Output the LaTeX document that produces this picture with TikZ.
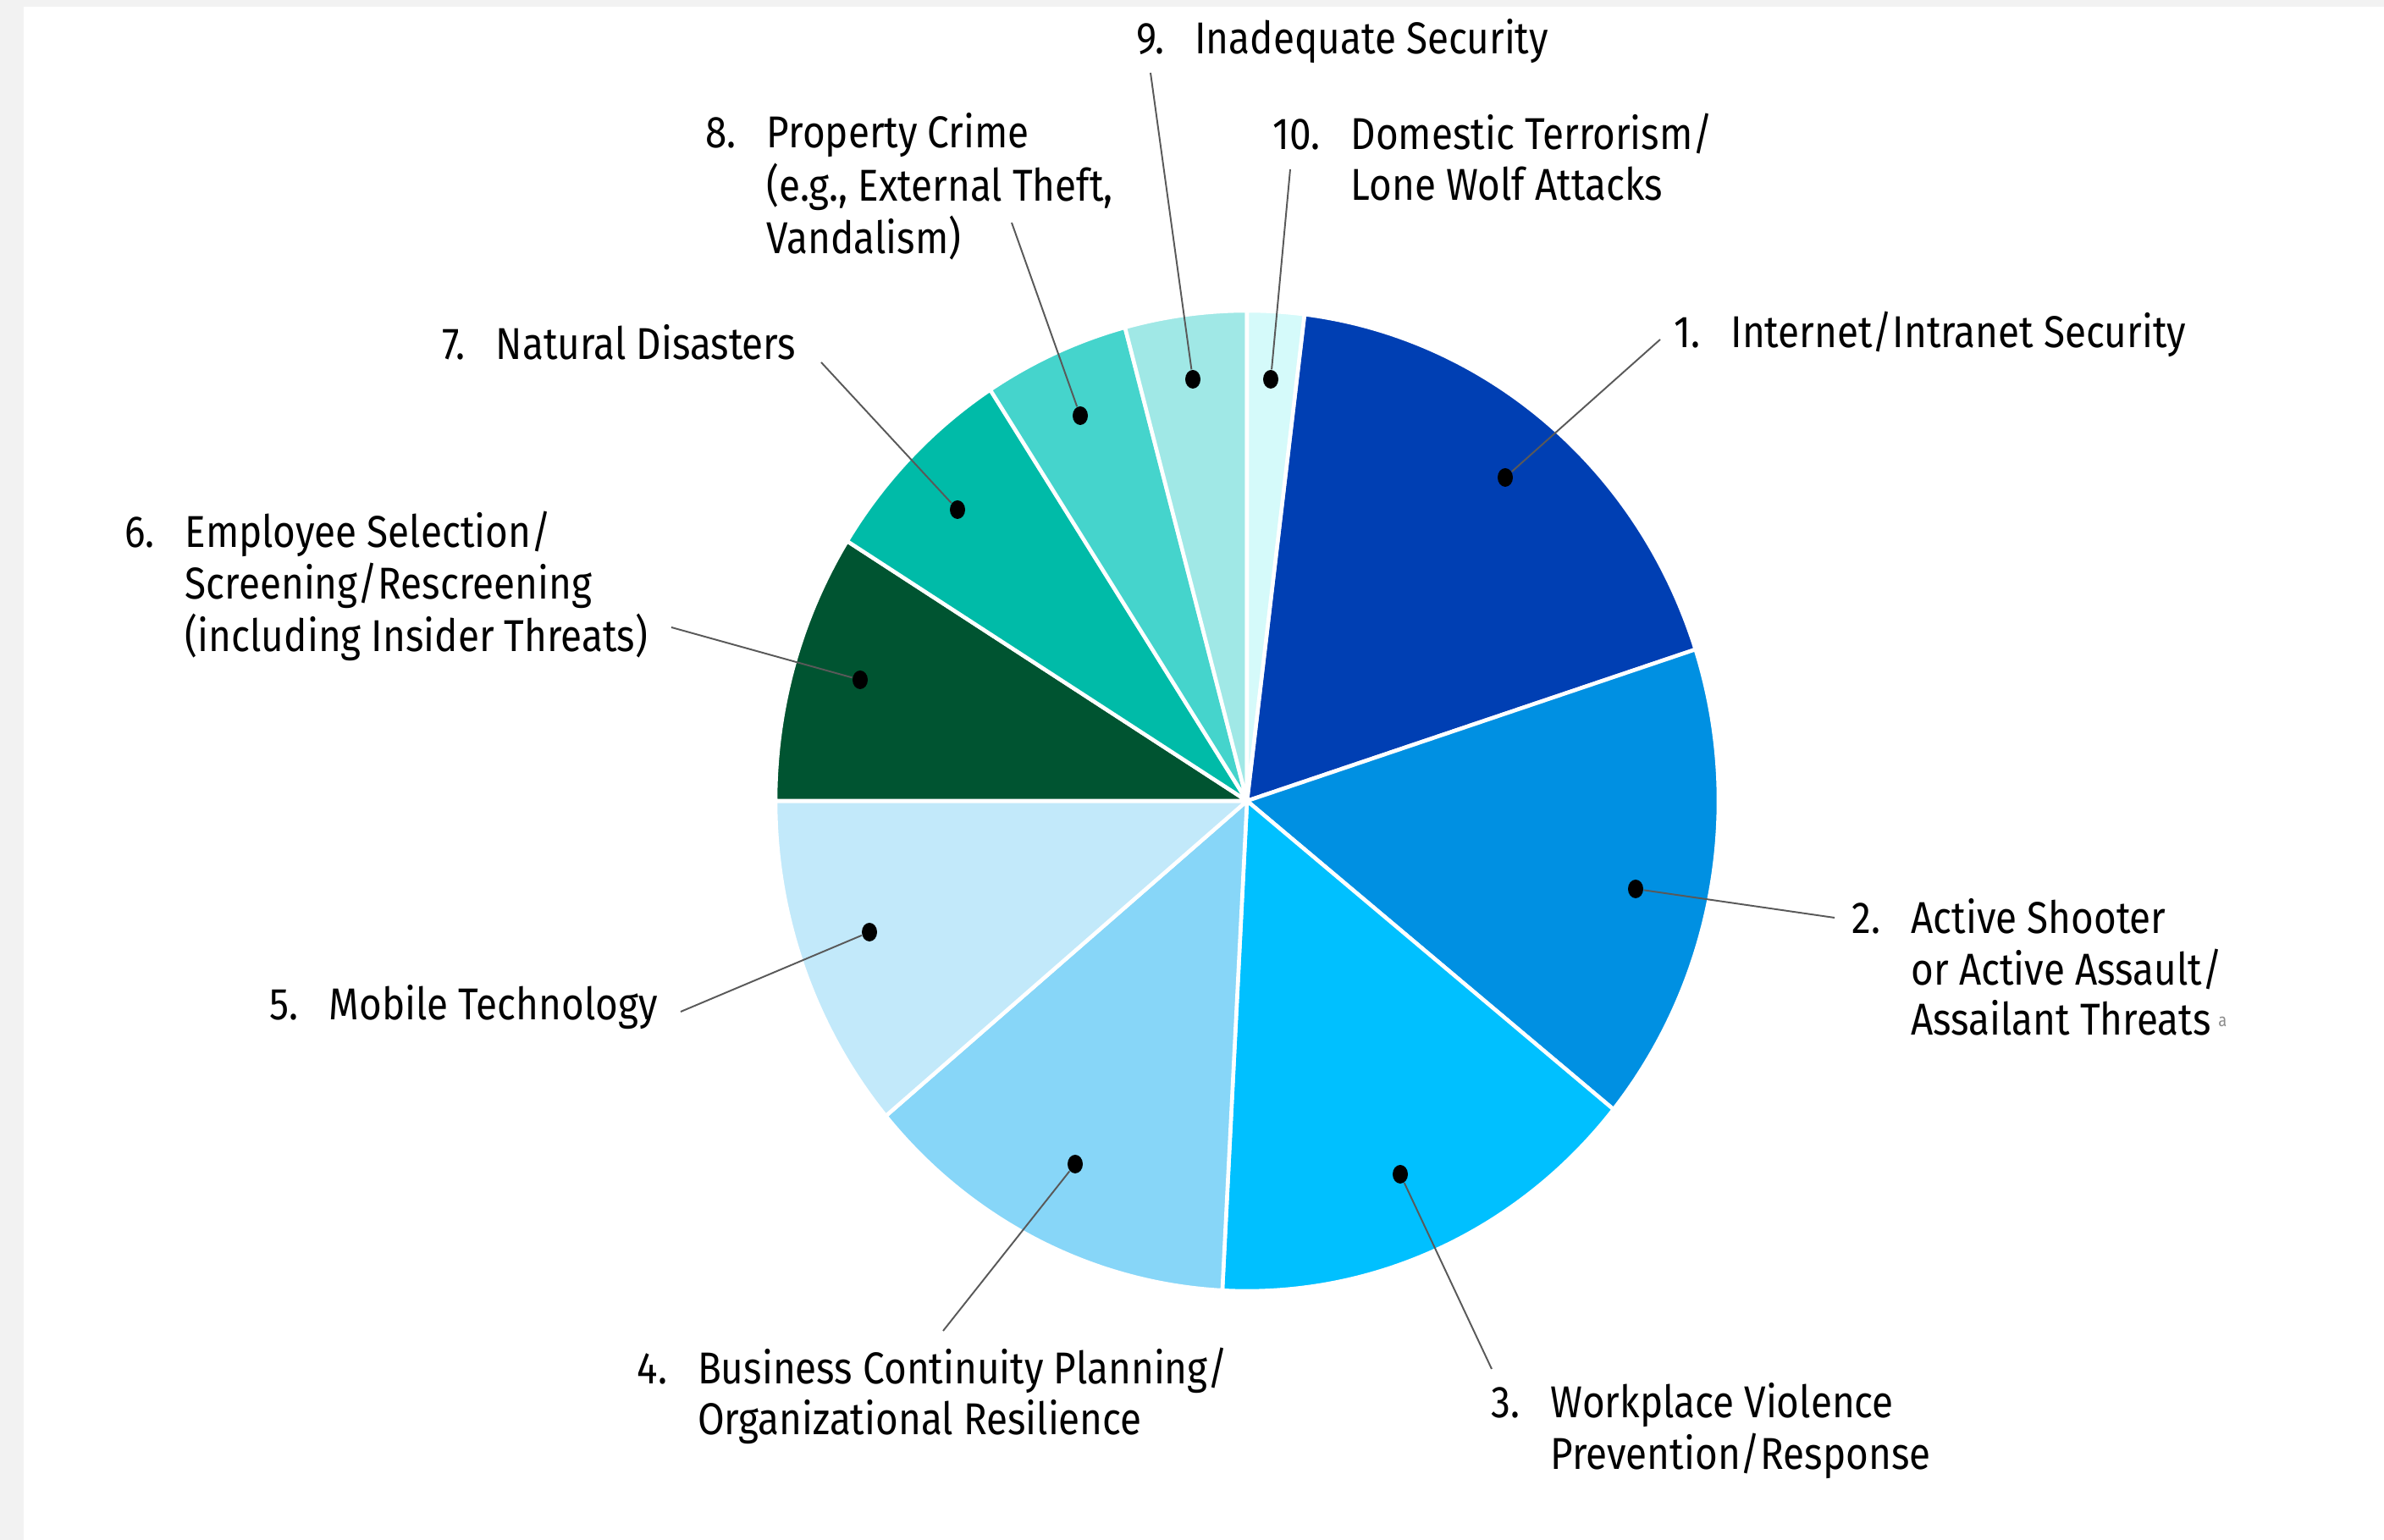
\documentclass[tikz,border=0pt]{standalone}
\usepackage{fontspec}
\setmainfont{Fira Sans}[FakeStretch=0.87]
\usepackage{xcolor}
\usetikzlibrary{
    calc,
    shapes.geometric
}
\definecolor{frame}{HTML}{F2F2F2}
\definecolor{riskA}{HTML}{003FB3}
\definecolor{riskB}{HTML}{0090E2}
\definecolor{riskC}{HTML}{00C0FF}
\definecolor{riskD}{HTML}{87D6F8}
\definecolor{riskE}{HTML}{C2E9FA}
\definecolor{riskF}{HTML}{005431}
\definecolor{riskG}{HTML}{00BBA8}
\definecolor{riskH}{HTML}{45D4CC}
\definecolor{riskI}{HTML}{A0E8E6}
\definecolor{riskJ}{HTML}{D5FAFA}
\tikzset{
    wedge/.style={draw=white, line width=1.3pt, line join=round},
    bullet/.style={ellipse, fill=black, inner sep=0pt, minimum width=0.18cm, minimum height=0.22cm},
    leader/.style={draw=black!65, line width=0.55pt},
    caption/.style={anchor=base west, inner sep=0pt, font=\fontsize{15}{16.8}\selectfont}
}
\newcommand{\threat}[2]{\begin{tabular}[t]{@{}l@{\hspace{0.36cm}}l@{}}#1 & #2\end{tabular}}

\begin{document}
\begin{tikzpicture}
    \useasboundingbox (0, 0) rectangle (28.16, 18.19);
    \fill[frame] (0, 0) rectangle (28.16, 18.19);
    \fill[white] (0.28, 0) rectangle (28.16, 18.11);

    \coordinate (O) at (14.73, 8.73);
    \foreach \a/\b/\c in {18/83/riskA, -39/18/riskB, -93/-39/riskC, -140/-93/riskD, -180/-140/riskE,
                          148/180/riskF, 123/148/riskG, 105/123/riskH, 90/105/riskI, 83/90/riskJ}
    {
        \filldraw[wedge, fill=\c] (O) -- ++(\a:5.57 and 5.79)
            arc[start angle=\a, end angle=\b, x radius=5.57, y radius=5.79] -- cycle;
    }

    \node[bullet] (d1) at (17.78, 12.55) {};
    \node[bullet] (d2) at (19.32, 7.69) {};
    \node[bullet] (d3) at (16.54, 4.32) {};
    \node[bullet] (d4) at (12.70, 4.44) {};
    \node[bullet] (d5) at (10.27, 7.18) {};
    \node[bullet] (d6) at (10.16, 10.16) {};
    \node[bullet] (d7) at (11.31, 12.17) {};
    \node[bullet] (d8) at (12.76, 13.28) {};
    \node[bullet] (d9) at (14.09, 13.71) {};
    \node[bullet] (d10) at (15.01, 13.71) {};

    \coordinate (e1) at (19.61, 14.18);
    \coordinate (e2) at (21.67, 7.35);
    \coordinate (e3) at (17.62, 2.02);
    \coordinate (e4) at (11.14, 2.47);
    \coordinate (e5) at (8.04, 6.24);
    \coordinate (e6) at (7.93, 10.78);
    \coordinate (e7) at (9.70, 13.91);
    \coordinate (e8) at (11.95, 15.56);
    \coordinate (e9) at (13.59, 17.33);
    \coordinate (e10) at (15.24, 16.19);

    \foreach \i in {1,...,10}
        \draw[leader] (d\i) -- (e\i);

    \node[caption] (l1) at (19.77, 14.08) {\threat{1.}{Internet/Intranet Security}};
    \node[caption] (l2) at (21.87, 7.16) {\threat{2.}{Active Shooter\\ & or Active Assault/\\ & Assailant Threats\,{\color{black!45}\fontsize{6}{6}\selectfont\raisebox{0.9ex}{a}}}};
    \node[caption] (l3) at (17.61, 1.44) {\threat{3.}{Workplace Violence\\ & Prevention/Response}};
    \node[caption] (l4) at (7.52, 1.84) {\threat{4.}{Business Continuity Planning/\\ & Organizational Resilience}};
    \node[caption] (l5) at (3.18, 6.14) {\threat{5.}{Mobile Technology}};
    \node[caption] (l6) at (1.47, 11.72) {\threat{6.}{Employee Selection/\\ & Screening/Rescreening\\ & (including Insider Threats)}};
    \node[caption] (l7) at (5.22, 13.94) {\threat{7.}{Natural Disasters}};
    \node[caption] (l8) at (8.33, 16.44) {\threat{8.}{Property Crime\\ & (e.g., External Theft,\\ & Vandalism)}};
    \node[caption] (l9) at (13.42, 17.55) {\threat{9.}{Inadequate Security}};
    \node[caption] (l10) at (15.03, 16.42) {\threat{10.}{Domestic Terrorism/\\ & Lone Wolf Attacks}};
\end{tikzpicture}
\end{document}
